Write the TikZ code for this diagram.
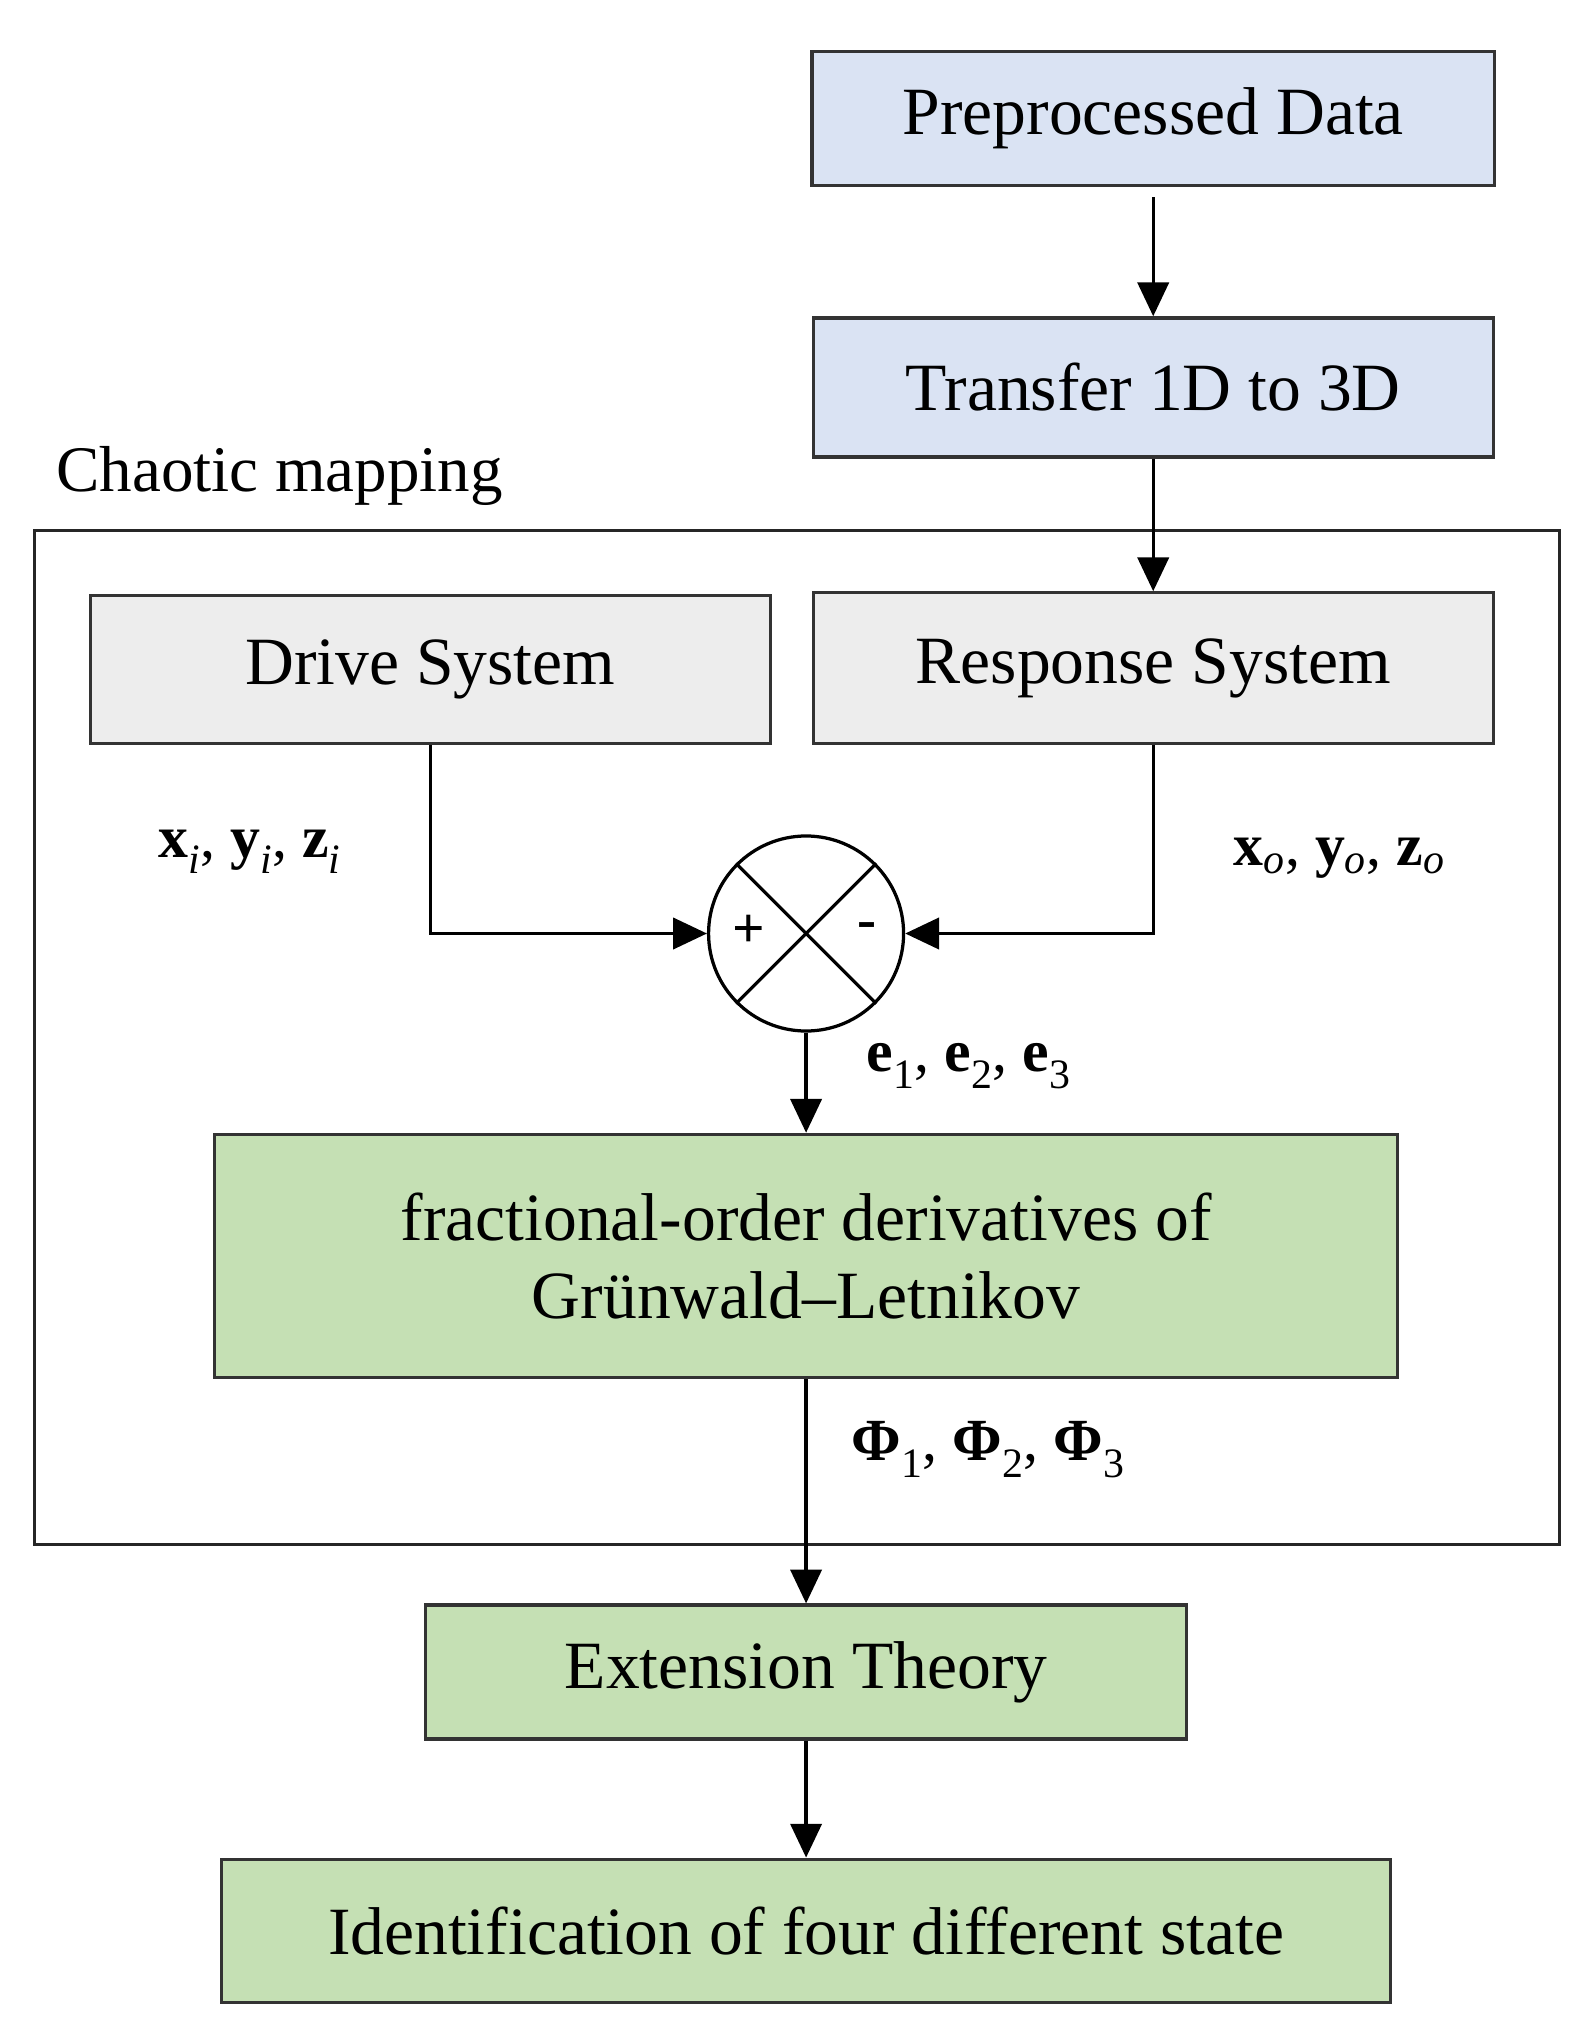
\documentclass[tikz,border=0pt]{standalone}
\usepackage{fontspec}
\setmainfont{Liberation Serif}
\usetikzlibrary{arrows.meta}
\newcommand{\sbx}[2]{\textbf{#1}\textsubscript{\textit{#2}}}
\newcommand{\sbn}[2]{\textbf{#1}\textsubscript{#2}}
\begin{document}
\begin{tikzpicture}[x=1pt,y=-1pt,
 box/.style={draw=black!80,line width=2.5pt,inner sep=0pt,font=\fontsize{52}{60}\selectfont},
 arr/.style={line width=2.5pt,-{Triangle[length=26pt,width=24pt]}},
 lbl/.style={font=\fontsize{46}{50}\selectfont}]
\useasboundingbox (0,0) rectangle (1224,1566);
\definecolor{bl}{HTML}{DAE3F3}\definecolor{gr}{HTML}{C5E0B4}\definecolor{gy}{HTML}{EDEDED}
\node[box,fill=bl,minimum width=525pt,minimum height=103pt] (pre) at (887,91) {Preprocessed Data};
\node[box,fill=bl,minimum width=523pt,minimum height=107pt] (tr) at (887,298) {Transfer 1D to 3D};
\node[draw=black!85,line width=2.5pt,minimum width=1173pt,minimum height=780pt,inner sep=0pt] (frame) at (613,798) {};
\node[anchor=west,font=\fontsize{50}{54}\selectfont] (cm) at (40,366) {Chaotic mapping};
\node[box,fill=gy,minimum width=523pt,minimum height=114pt] (drv) at (331,515) {Drive System};
\node[box,fill=gy,minimum width=523pt,minimum height=116pt] (rsp) at (887,514) {Response System};
\node[draw,line width=2.5pt,circle,minimum size=150pt,inner sep=0pt] (c) at (620,718) {};
\draw[line width=2.5pt] (c.45)--(c.225) (c.135)--(c.315);
\node[font=\bfseries\fontsize{44}{48}\selectfont] (plus) at (576,716) {+};
\node[font=\bfseries\fontsize{44}{48}\selectfont] (minus) at (667,716) {-};
\node[box,fill=gr,minimum width=910pt,minimum height=187pt,align=center] (fr) at (620,966) {fractional-order derivatives of\\Grünwald–Letnikov};
\node[box,fill=gr,minimum width=585pt,minimum height=103pt] (ext) at (620,1286) {Extension Theory};
\node[box,fill=gr,minimum width=899pt,minimum height=110pt] (id) at (620,1485) {Identification of four different state};
\draw[arr] (pre.south) ++(0,8) coordinate (a1) -- (tr.north);
\draw[arr] (tr.south) -- (rsp.north);
\draw[arr] (drv.south) |- (c.west);
\draw[arr] (rsp.south) |- (c.east);
\draw[arr] (c.south) -- (fr.north);
\draw[arr] (fr.south) -- (ext.north);
\draw[arr] (ext.south) -- (id.north);
\node[lbl] (l1) at (192,655) {\sbx{x}{i}, \sbx{y}{i}, \sbx{z}{i}};
\node[lbl] (l2) at (1030,660) {\sbx{x}{o}, \sbx{y}{o}, \sbx{z}{o}};
\node[lbl] (l3) at (745,820) {\sbn{e}{1}, \sbn{e}{2}, \sbn{e}{3}};
\node[lbl] (l4) at (760,1115) {\sbn{Φ}{1}, \sbn{Φ}{2}, \sbn{Φ}{3}};
\end{tikzpicture}
\end{document}
